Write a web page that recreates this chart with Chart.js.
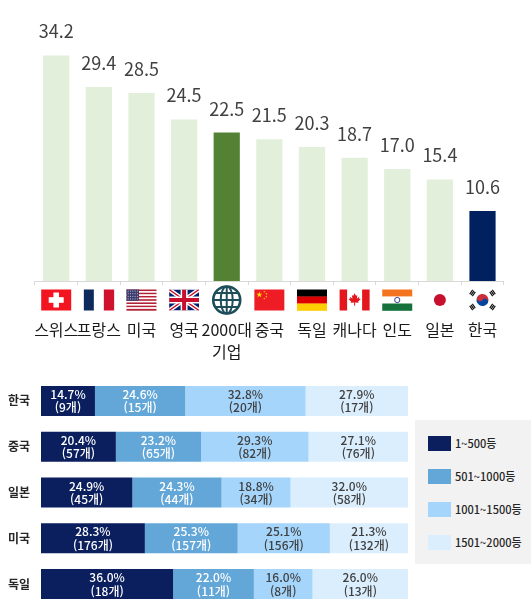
<!DOCTYPE html>
<html lang="ko">
<head>
<meta charset="utf-8">
<title>국가별 기업 비교</title>
<script src="https://cdn.jsdelivr.net/npm/chart.js@4.4.1/dist/chart.umd.min.js"></script>
<style>
	html, body { margin: 0; padding: 0; background: #fff; }
	#wrap { position: relative; width: 531px; height: 613px; overflow: hidden; font-family: "Noto Sans CJK KR", "Noto Sans", sans-serif; }
	#topBox { position: absolute; left: 0; top: 0; width: 531px; height: 370px; }
	#botBox { position: absolute; left: 0; top: 375px; width: 531px; height: 238px; }
	.rank-legend { position: absolute; left: 415px; top: 420px; width: 116px; height: 144px; background: #f2f2f2; }
	.rank-legend__item { position: absolute; left: 13px; height: 15px; line-height: 15px; font-size: 11px; font-weight: 500; color: #262626; white-space: nowrap; }
	.rank-legend__box { display: inline-block; width: 23px; height: 15px; vertical-align: top; margin-right: 4px; }
</style>
</head>
<body>
<div id="wrap">
	<div id="topBox"><canvas id="chartTop" width="531" height="370"></canvas></div>
	<div id="botBox"><canvas id="chartRank" width="531" height="238"></canvas></div>
	<div id="rankLegend" class="rank-legend"></div>
</div>
<script>
// 상단: 국가별 값
var countries = ['스위스', '프랑스', '미국', '영국', ['2000대', '기업'], '중국', '독일', '캐나다', '인도', '일본', '한국'];
var flagCodes = ['ch', 'fr', 'us', 'gb', 'globe', 'cn', 'de', 'ca', 'in', 'jp', 'kr'];
var topValues = [34.2, 29.4, 28.5, 24.5, 22.5, 21.5, 20.3, 18.7, 17.0, 15.4, 10.6];

// 하단: 순위 구간별 비중(%)과 기업 수
var rankRows = ['한국', '중국', '일본', '미국', '독일'];
var rankTiers = ['1~500등', '501~1000등', '1001~1500등', '1501~2000등'];
var tier1Pct = [14.7, 20.4, 24.9, 28.3, 36.0];
var tier2Pct = [24.6, 23.2, 24.3, 25.3, 22.0];
var tier3Pct = [32.8, 29.3, 18.8, 25.1, 16.0];
var tier4Pct = [27.9, 27.1, 32.0, 21.3, 26.0];
var tier1Cnt = [9, 57, 45, 176, 18];
var tier2Cnt = [15, 65, 44, 157, 11];
var tier3Cnt = [20, 82, 34, 156, 8];
var tier4Cnt = [17, 76, 58, 132, 13];

(function () {
	'use strict';

	var FONT = '"Noto Sans CJK KR", "Noto Sans", sans-serif';
	var tierColors = ['#0b1f5e', '#63a7d9', '#a5d5fb', '#dbeefd'];
	var tierText = ['#ffffff', '#ffffff', '#404040', '#404040'];

	function star(ctx, cx, cy, r, rot) {
		ctx.beginPath();
		for (var i = 0; i < 10; i++) {
			var a = rot - Math.PI / 2 + i * Math.PI / 5;
			var rr = i % 2 === 0 ? r : r * 0.4;
			ctx.lineTo(cx + Math.cos(a) * rr, cy + Math.sin(a) * rr);
		}
		ctx.closePath();
		ctx.fill();
	}

	function stripesV(ctx, x, y, w, h, cols) {
		var sw = w / cols.length;
		cols.forEach(function (c, i) {
			ctx.fillStyle = c;
			ctx.fillRect(x + i * sw, y, sw + 0.3, h);
		});
	}

	function stripesH(ctx, x, y, w, h, cols) {
		var sh = h / cols.length;
		cols.forEach(function (c, i) {
			ctx.fillStyle = c;
			ctx.fillRect(x, y + i * sh, w, sh + 0.3);
		});
	}

	var leaf = [[0, -5], [1, -3.2], [2, -3.6], [1.6, -1], [3.6, -2.6], [3.1, -1.1], [4.6, -0.8], [2.6, 1.1], [2.9, 2.1],
		[0.35, 1.8], [0.35, 4.2], [-0.35, 4.2], [-0.35, 1.8], [-2.9, 2.1], [-2.6, 1.1], [-4.6, -0.8], [-3.1, -1.1],
		[-3.6, -2.6], [-1.6, -1], [-2, -3.6], [-1, -3.2]];

	function drawFlag(ctx, code, cx, cy) {
		var w = 30, h = 21;
		var x = cx - w / 2, y = cy - h / 2;
		ctx.save();
		if (code === 'ch') {
			ctx.fillStyle = '#f2141f';
			ctx.fillRect(x, y, w, h);
			ctx.fillStyle = '#fff';
			ctx.fillRect(cx - 2.8, cy - 7.5, 5.6, 15);
			ctx.fillRect(cx - 7.5, cy - 2.8, 15, 5.6);
		} else if (code === 'fr') {
			stripesV(ctx, x, y, w, h, ['#0d2a5c', '#ffffff', '#d0122f']);
		} else if (code === 'us') {
			var sh = h / 13;
			for (var i = 0; i < 13; i++) {
				ctx.fillStyle = i % 2 === 0 ? '#b22234' : '#ffffff';
				ctx.fillRect(x, y + i * sh, w, sh + 0.2);
			}
			ctx.fillStyle = '#3c3b6e';
			ctx.fillRect(x, y, 12.5, sh * 7);
			ctx.fillStyle = 'rgba(255,255,255,0.8)';
			for (var r = 0; r < 4; r++) {
				for (var c = 0; c < 5; c++) {
					ctx.fillRect(x + 1.3 + c * 2.3, y + 1.2 + r * 2.6, 0.9, 0.9);
				}
			}
		} else if (code === 'gb') {
			ctx.beginPath();
			ctx.rect(x, y, w, h);
			ctx.clip();
			ctx.fillStyle = '#012169';
			ctx.fillRect(x, y, w, h);
			ctx.lineCap = 'butt';
			ctx.strokeStyle = '#fff';
			ctx.lineWidth = 4.2;
			ctx.beginPath();
			ctx.moveTo(x, y); ctx.lineTo(x + w, y + h);
			ctx.moveTo(x + w, y); ctx.lineTo(x, y + h);
			ctx.stroke();
			ctx.strokeStyle = '#c8102e';
			ctx.lineWidth = 1.4;
			ctx.stroke();
			ctx.fillStyle = '#fff';
			ctx.fillRect(cx - 3.5, y, 7, h);
			ctx.fillRect(x, cy - 3.5, w, 7);
			ctx.fillStyle = '#c8102e';
			ctx.fillRect(cx - 2, y, 4, h);
			ctx.fillRect(x, cy - 2, w, 4);
		} else if (code === 'globe') {
			var gr = 13.5;
			ctx.strokeStyle = '#1f4e5b';
			ctx.lineWidth = 2.6;
			ctx.beginPath();
			ctx.arc(cx, cy, gr, 0, Math.PI * 2);
			ctx.stroke();
			ctx.lineWidth = 2;
			ctx.beginPath();
			ctx.ellipse(cx, cy, 6, gr, 0, 0, Math.PI * 2);
			ctx.moveTo(cx, cy - gr); ctx.lineTo(cx, cy + gr);
			ctx.moveTo(cx - gr, cy); ctx.lineTo(cx + gr, cy);
			ctx.moveTo(cx - 11.2, cy - 7); ctx.lineTo(cx + 11.2, cy - 7);
			ctx.moveTo(cx - 11.2, cy + 7); ctx.lineTo(cx + 11.2, cy + 7);
			ctx.stroke();
		} else if (code === 'cn') {
			ctx.fillStyle = '#ee1c25';
			ctx.fillRect(x, y, w, h);
			ctx.fillStyle = '#ffde00';
			star(ctx, x + 5, y + 5.2, 3.2, 0);
			star(ctx, x + 10, y + 2.2, 1.1, 0.4);
			star(ctx, x + 12, y + 4.3, 1.1, 0.8);
			star(ctx, x + 12, y + 7.2, 1.1, 0);
			star(ctx, x + 10, y + 9.2, 1.1, 0.4);
		} else if (code === 'de') {
			stripesH(ctx, x, y, w, h, ['#000000', '#dd0000', '#ffce00']);
		} else if (code === 'ca') {
			ctx.fillStyle = '#fff';
			ctx.fillRect(x, y, w, h);
			ctx.fillStyle = '#e3161d';
			ctx.fillRect(x, y, 7.5, h);
			ctx.fillRect(x + w - 7.5, y, 7.5, h);
			ctx.beginPath();
			leaf.forEach(function (p) {
				ctx.lineTo(cx + p[0] * 1.35, cy + p[1] * 1.35);
			});
			ctx.closePath();
			ctx.fill();
		} else if (code === 'in') {
			stripesH(ctx, x, y, w, h, ['#f4731f', '#ffffff', '#17713c']);
			ctx.strokeStyle = '#1c2a80';
			ctx.lineWidth = 0.9;
			ctx.beginPath();
			ctx.arc(cx, cy, 2.6, 0, Math.PI * 2);
			ctx.stroke();
		} else if (code === 'jp') {
			ctx.fillStyle = '#c8102e';
			ctx.beginPath();
			ctx.arc(cx, cy, 6, 0, Math.PI * 2);
			ctx.fill();
		} else if (code === 'kr') {
			var kr = 6;
			ctx.translate(cx, cy);
			ctx.save();
			ctx.rotate(0.59);
			ctx.fillStyle = '#cd2e3a';
			ctx.beginPath(); ctx.arc(0, 0, kr, Math.PI, 0); ctx.fill();
			ctx.fillStyle = '#0047a0';
			ctx.beginPath(); ctx.arc(0, 0, kr, 0, Math.PI); ctx.fill();
			ctx.fillStyle = '#cd2e3a';
			ctx.beginPath(); ctx.arc(-kr / 2, 0, kr / 2, 0, Math.PI * 2); ctx.fill();
			ctx.fillStyle = '#0047a0';
			ctx.beginPath(); ctx.arc(kr / 2, 0, kr / 2, 0, Math.PI * 2); ctx.fill();
			ctx.restore();
			ctx.fillStyle = '#111';
			[[-1, -1], [1, -1], [-1, 1], [1, 1]].forEach(function (d) {
				ctx.save();
				ctx.translate(d[0] * 10, d[1] * 7);
				ctx.rotate(Math.atan2(d[1] * 7, d[0] * 10) + Math.PI / 2);
				for (var k = -1; k <= 1; k++) {
					ctx.fillRect(-2.6, k * 1.6 - 0.6, 5.2, 1.2);
				}
				ctx.restore();
			});
		}
		ctx.restore();
	}

	var topPlugin = {
		id: 'topDecor',
		afterDatasetsDraw: function (chart) {
			var ctx = chart.ctx;
			var meta = chart.getDatasetMeta(0);
			ctx.save();
			ctx.font = '18px ' + FONT;
			ctx.fillStyle = '#404040';
			ctx.textAlign = 'center';
			ctx.textBaseline = 'alphabetic';
			meta.data.forEach(function (bar, i) {
				ctx.fillText(topValues[i].toFixed(1), bar.x, bar.y - 17);
			});
			ctx.restore();
		},
		afterDraw: function (chart) {
			var xs = chart.scales.x;
			flagCodes.forEach(function (code, i) {
				drawFlag(chart.ctx, code, xs.getPixelForTick(i), 300);
			});
		}
	};

	new Chart(document.getElementById('chartTop'), {
		type: 'bar',
		data: {
			labels: countries,
			datasets: [{
				data: topValues,
				backgroundColor: function (ctx) {
					var lab = countries[ctx.dataIndex];
					if (Array.isArray(lab)) {
						return '#548235';
					}
					return lab === '한국' ? '#002060' : '#e2efda';
				},
				borderWidth: 0,
				barPercentage: 1,
				categoryPercentage: 0.615,
			}],
		},
		options: {
			responsive: false,
			animation: false,
			layout: { padding: { left: 15, right: 15, top: 4, bottom: 0 } },
			plugins: { legend: { display: false }, tooltip: { enabled: false } },
			scales: {
				x: {
					afterFit: function (scale) { scale.height = 89; },
					grid: { drawOnChartArea: false, color: '#d9d9d9', tickLength: 4 },
					border: { color: '#d9d9d9' },
					ticks: {
						padding: 34,
						color: '#1a1a1a',
						font: { family: FONT, size: 16, lineHeight: 1.375 },
						maxRotation: 0,
						autoSkip: false,
					},
				},
				y: { display: false, min: 0, max: 42 },
			},
		},
		plugins: [topPlugin],
	});

	var pctSets = [tier1Pct, tier2Pct, tier3Pct, tier4Pct];
	var cntSets = [tier1Cnt, tier2Cnt, tier3Cnt, tier4Cnt];

	var segLabels = {
		id: 'segLabels',
		afterDatasetsDraw: function (chart) {
			var ctx = chart.ctx;
			ctx.save();
			ctx.font = '500 12px ' + FONT;
			ctx.textAlign = 'center';
			ctx.textBaseline = 'alphabetic';
			pctSets.forEach(function (pcts, d) {
				ctx.fillStyle = tierText[d];
				chart.getDatasetMeta(d).data.forEach(function (bar, i) {
					var cx = (bar.x + bar.base) / 2;
					ctx.fillText(pcts[i].toFixed(1) + '%', cx, bar.y - 2);
					ctx.fillText('(' + cntSets[d][i] + '개)', cx, bar.y + 11.5);
				});
			});
			ctx.restore();
		}
	};

	new Chart(document.getElementById('chartRank'), {
		type: 'bar',
		data: {
			labels: rankRows,
			datasets: rankTiers.map(function (name, d) {
				return {
					label: name,
					data: pctSets[d],
					backgroundColor: tierColors[d],
					borderWidth: 0,
					barPercentage: 1,
					categoryPercentage: 0.656,
				};
			}),
		},
		options: {
			indexAxis: 'y',
			responsive: false,
			animation: false,
			layout: { padding: { left: 0, right: 123, top: 3, bottom: 6 } },
			plugins: { legend: { display: false }, tooltip: { enabled: false } },
			scales: {
				x: { display: false, stacked: true, min: 0, max: 100 },
				y: {
					stacked: true,
					afterFit: function (scale) {
						scale.width = 41;
						// 라벨 높이만큼의 여백은 필요 없음
						scale.paddingTop = 0;
						scale.paddingBottom = 0;
					},
					grid: { display: false, drawTicks: false },
					border: { display: false },
					ticks: {
						padding: 11,
						color: '#262626',
						font: { family: FONT, size: 12, weight: 'bold' },
					},
				},
			},
		},
		plugins: [segLabels],
	});

	var legendEl = document.getElementById('rankLegend');
	rankTiers.forEach(function (name, d) {
		var item = document.createElement('div');
		item.className = 'rank-legend__item';
		item.style.top = (15.5 + d * 33.3) + 'px';
		var box = document.createElement('span');
		box.className = 'rank-legend__box';
		box.style.background = tierColors[d];
		item.appendChild(box);
		item.appendChild(document.createTextNode(name));
		legendEl.appendChild(item);
	});
})();
</script>
</body>
</html>
